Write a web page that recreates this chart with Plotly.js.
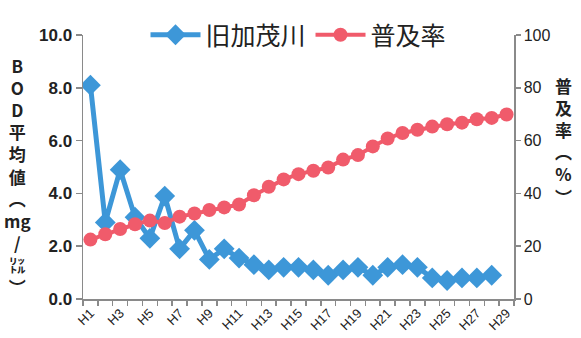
<!DOCTYPE html>
<html>
<head>
<meta charset="utf-8">
<script src="https://cdn.plot.ly/plotly-3.0.1.min.js"></script>
<style>html,body{margin:0;padding:0;background:#fff;}#chart{width:581px;height:338px;}</style>
</head>
<body>
<div id="chart"></div>
<script>
const categories = ['H1','H2','H3','H4','H5','H6','H7','H8','H9','H10','H11','H12','H13','H14','H15','H16','H17','H18','H19','H20','H21','H22','H23','H24','H25','H26','H27','H28','H29'];
const tickLabels = ['H1','','H3','','H5','','H7','','H9','','H11','','H13','','H15','','H17','','H19','','H21','','H23','','H25','','H27','','H29'];
const bodValues = [8.1,2.9,4.9,3.1,2.3,3.9,1.9,2.6,1.5,1.9,1.55,1.3,1.1,1.2,1.2,1.1,0.9,1.1,1.2,0.9,1.2,1.3,1.2,0.8,0.7,0.8,0.8,0.9];
const rateValues = [22.5,24.5,26.5,28.3,29.7,28.8,31.2,32.4,33.7,34.7,35.8,39.3,42.5,45.3,47.3,48.6,49.8,52.8,54.5,57.8,60.8,62.9,64.1,65.3,66.2,66.8,68.1,68.6,69.9];
const seriesNames = ['旧加茂川','普及率'];
const leftTitle = 'B<br>O<br>D<br>平<br>均<br>値<br>︵<br>mg<br>/<br>㍑<br>︶';
const rightTitle = '普<br>及<br>率<br>︵<br>%<br>︶';

const blue = '#3d97d8';
const red = '#f05b6b';
const axisColor = '#8a8a8a';
const fontFam = 'Liberation Sans, Arial, "Noto Sans CJK JP", sans-serif';
const cjkFam = '"Noto Sans CJK JP", "Liberation Sans", sans-serif';

const traces = [
  {
    x: categories.slice(0, bodValues.length), y: bodValues, name: seriesNames[0],
    type: 'scatter', mode: 'lines+markers', yaxis: 'y',
    line: {color: blue, width: 5},
    marker: {symbol: 'diamond', size: 16, color: blue}
  },
  {
    x: categories, y: rateValues, name: seriesNames[1],
    type: 'scatter', mode: 'lines+markers', yaxis: 'y2',
    line: {color: red, width: 4},
    marker: {symbol: 'circle', size: 14, color: red}
  }
];

const layout = {
  width: 581, height: 338,
  margin: {l: 83, r: 67, t: 23, b: 39, pad: 0},
  paper_bgcolor: '#fff', plot_bgcolor: '#fff',
  showlegend: true,
  legend: {
    orientation: 'h', x: 0.5, xanchor: 'center', y: 1.0, yanchor: 'middle',
    font: {family: cjkFam, size: 25, color: '#222'},
    bgcolor: 'rgba(0,0,0,0)', itemwidth: 50
  },
  xaxis: {
    type: 'category', categoryorder: 'array', categoryarray: categories,
    range: [-0.5, 28.5], tickmode: 'array', tickvals: categories, ticktext: tickLabels,
    tickson: 'boundaries', ticks: 'outside', ticklen: 5, tickcolor: axisColor, tickwidth: 1.5,
    tickangle: -45, showline: true, linecolor: axisColor, linewidth: 1.5,
    showgrid: false, zeroline: false,
    tickfont: {family: fontFam, size: 13, color: '#222'}
  },
  yaxis: {
    range: [0, 10], dtick: 2, tick0: 0, tickformat: '.1f',
    ticks: 'outside', ticklen: 6, tickcolor: axisColor, tickwidth: 1.5,
    showline: true, linecolor: axisColor, linewidth: 1.5,
    showgrid: false, zeroline: false,
    tickfont: {family: fontFam, size: 17, color: '#222', weight: 'bold'}
  },
  yaxis2: {
    overlaying: 'y', side: 'right', range: [0, 100], dtick: 20, tick0: 0,
    ticks: 'outside', ticklen: 5, tickcolor: axisColor, tickwidth: 1.5,
    showline: true, linecolor: axisColor, linewidth: 1.5,
    showgrid: false, zeroline: false,
    tickfont: {family: fontFam, size: 16, color: '#222'}
  },
  annotations: [
    {text: leftTitle, xref: 'paper', yref: 'paper', x: -0.151, y: 0.465,
     xanchor: 'center', yanchor: 'middle', showarrow: false,
     font: {family: cjkFam, size: 17, color: '#222', weight: 'bold'}},
    {text: rightTitle, xref: 'paper', yref: 'paper', x: 1.114, y: 0.60,
     xanchor: 'center', yanchor: 'middle', showarrow: false,
     font: {family: cjkFam, size: 17, color: '#222', weight: 'bold'}}
  ]
};

Plotly.newPlot('chart', traces, layout, {displayModeBar: false, staticPlot: true});
</script>
</body>
</html>
